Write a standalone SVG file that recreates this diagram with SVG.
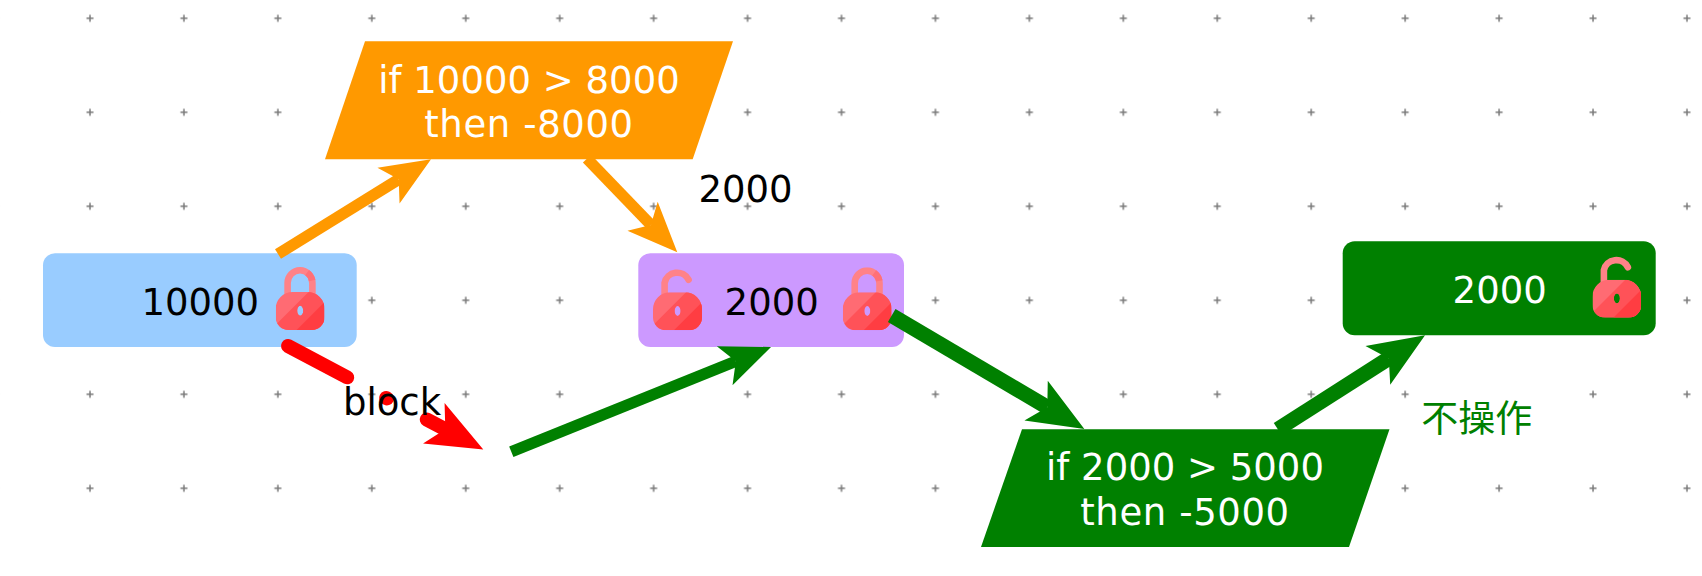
<svg xmlns="http://www.w3.org/2000/svg" xmlns:xlink="http://www.w3.org/1999/xlink" width="1702" height="576" viewBox="0 0 1702 576">
<style>
text{font-family:"DejaVu Sans","Noto Sans CJK SC",sans-serif;font-size:37px;text-anchor:middle}
.w{fill:#fff}.k{fill:#000}
.s{letter-spacing:.6px}
.c{fill:none;stroke-width:11.4}
.t{stroke-width:15}
.r{stroke-width:14}
</style>
<defs>
<pattern id="grid" patternUnits="userSpaceOnUse" x="43" y="-28.7" width="93.94" height="94">
<path d="M47 43.5v7M43.5 47h7" stroke="#7a7a7a" stroke-width="1.5" fill="none"/>
</pattern>
<marker id="aO" markerUnits="userSpaceOnUse" orient="auto" markerWidth="50" markerHeight="42" refX="12" refY="21" overflow="visible"><path d="M0 0L50 21L0 42L12 21Z" fill="#ff9900"/></marker>
<marker id="aG" markerUnits="userSpaceOnUse" orient="auto" markerWidth="50" markerHeight="42" refX="12" refY="21" overflow="visible"><path d="M0 0L50 21L0 42L12 21Z" fill="#008000"/></marker>
<marker id="aGb" markerUnits="userSpaceOnUse" orient="auto" markerWidth="56" markerHeight="46" refX="13" refY="23" overflow="visible"><path d="M0 0L56 23L0 46L13 23Z" fill="#008000"/></marker>
<marker id="aR" markerUnits="userSpaceOnUse" orient="auto" markerWidth="56" markerHeight="46" refX="13" refY="23" overflow="visible"><path d="M0 0L56 23L0 46L13 23Z" fill="#ff0000"/></marker>
<clipPath id="lockBody"><path clip-rule="evenodd" d="M17 25H32A17 17 0 0 1 49 42V50A13 13 0 0 1 36 63H13A13 13 0 0 1 0 50V42A17 17 0 0 1 17 25ZM24.6 38.7a3 5 0 0 0 0 10a3 5 0 0 0 0-10Z"/></clipPath>
<g id="bodyArt" clip-path="url(#lockBody)">
<rect width="49" height="63" y="0" fill="#ff6b73"/>
<path d="M-6 64L49 9V64Z" fill="#ff5258"/>
<path d="M21 63L49 35V63Z" fill="#ff3d42"/>
</g>
<symbol id="lockClosed" viewBox="0 0 49 63" width="49" height="63">
<path d="M12 30V16A12.4 12.7 0 0 1 36.8 16V30" fill="none" stroke="#ff8288" stroke-width="6.6"/>
<path d="M31.5 5.6A12.4 12.7 0 0 1 36.6 13.5" fill="none" stroke="#ff7077" stroke-width="6.6"/>
<use href="#bodyArt" xlink:href="#bodyArt"/>
</symbol>
<symbol id="lockOpen" viewBox="0 0 49 63" width="49" height="63">
<path d="M11.6 30V15.5A12.7 12.3 0 0 1 35.6 12.5" fill="none" stroke="#ff8288" stroke-width="6.6" stroke-linecap="round"/>
<use href="#bodyArt" xlink:href="#bodyArt"/>
</symbol>
</defs>
<rect width="1702" height="576" fill="#fff"/>
<rect id="background-grid" width="1702" height="576" fill="url(#grid)"/>

<g id="node-balance">
<rect x="43" y="253.3" width="313.7" height="93.7" rx="12" fill="#99ccff"/>
<text class="k" x="200.3" y="315">10000</text>
<use href="#lockClosed" xlink:href="#lockClosed" x="275.6" y="267"/>
</g>
<g id="node-check-8000">
<path d="M365 41.3H733L692.7 159.3H325Z" fill="#ff9900"/>
<text class="w" x="529" y="92.7">if 10000 &gt; 8000</text>
<text class="w s" x="529" y="136.7">then -8000</text>
</g>
<g id="node-purple">
<rect x="638.3" y="253.3" width="265.7" height="93.7" rx="12" fill="#cc99ff"/>
<use href="#lockOpen" xlink:href="#lockOpen" x="653" y="267.3"/>
<text class="k" x="771.7" y="315">2000</text>
<use href="#lockClosed" xlink:href="#lockClosed" x="842.7" y="267.3"/>
</g>
<g id="node-check-5000">
<path d="M1022 429.3H1389.5L1349 547H981Z" fill="#008000"/>
<text class="w" x="1185" y="480">if 2000 &gt; 5000</text>
<text class="w s" x="1185" y="525">then -5000</text>
</g>
<g id="node-result">
<rect x="1342.7" y="241.3" width="313" height="94" rx="12" fill="#008000"/>
<text class="w" x="1499.7" y="302.7">2000</text>
<use href="#lockOpen" xlink:href="#lockOpen" x="1592.3" y="254.7"/>
</g>

<g id="connectors">
<path class="c" stroke="#ff9900" marker-end="url(#aO)" d="M278 254L398.7 179.3"/>
<path class="c" stroke="#ff9900" marker-end="url(#aO)" d="M587 158.6L650.9 224.9"/>
<path class="c" stroke="#008000" marker-end="url(#aG)" d="M511.3 451.8L735.8 361.2"/>
<path class="c t" stroke="#008000" marker-end="url(#aGb)" d="M891.7 315.5L1047.3 407.2"/>
<path class="c t" stroke="#008000" marker-end="url(#aGb)" d="M1277.8 429.2L1388.8 358.4"/>
<path class="c r" stroke="#ff0000" stroke-linecap="round" stroke-dasharray="67 44 1 45" marker-end="url(#aR)" d="M288 346L445.3 429.3"/>
<text class="k" x="392" y="415">block</text>
<text class="k" x="745.6" y="201.7">2000</text>
<rect x="1421" y="388" width="111" height="48" fill="#fff"/>
<text x="1476.7" y="431.5" fill="#008000" style="font-family:'Noto Sans CJK SC',sans-serif">不操作</text>
</g>
</svg>
